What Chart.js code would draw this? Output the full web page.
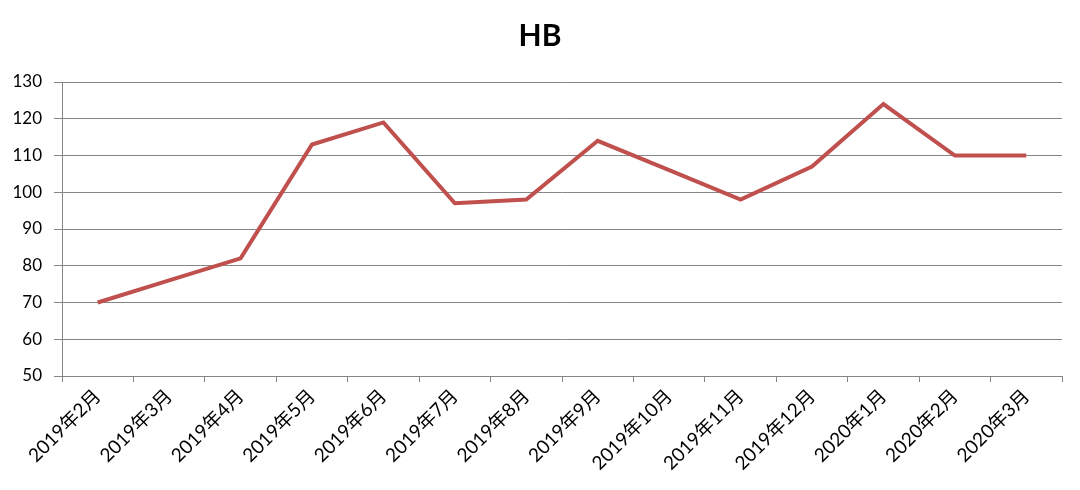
<!DOCTYPE html>
<html>
<head>
<meta charset="utf-8">
<script src="https://cdn.jsdelivr.net/npm/chart.js@4/dist/chart.umd.min.js"></script>
<style>
html,body{margin:0;padding:0;background:#fff;}
#wrap{width:1080px;height:490px;position:relative;}
</style>
</head>
<body>
<div id="wrap"><canvas id="c" width="1080" height="490"></canvas></div>
<script>
const categories = ["2019年2月","2019年3月","2019年4月","2019年5月","2019年6月","2019年7月","2019年8月","2019年9月","2019年10月","2019年11月","2019年12月","2020年1月","2020年2月","2020年3月"];
const hbValues = [70,76,82,113,119,97,98,114,106,98,107,124,110,110];
const yTicks = [50,60,70,80,90,100,110,120,130];
const chartTitle = "HB";

const FONT = "Lato, 'Noto Sans CJK SC', sans-serif";
const gridColor = "#868686";

const centeredTitle = {
  id: 'centeredTitle',
  afterDraw(chart) {
    const ctx = chart.ctx;
    ctx.save();
    ctx.font = "bold 30px " + FONT;
    ctx.fillStyle = '#000';
    ctx.textAlign = 'center';
    ctx.textBaseline = 'middle';
    ctx.fillText(chartTitle, chart.width / 2, 36);
    ctx.restore();
  }
};

new Chart(document.getElementById('c'), {
  type: 'line',
  data: {
    labels: categories,
    datasets: [{
      label: chartTitle,
      data: hbValues,
      borderColor: '#C0504D',
      backgroundColor: '#C0504D',
      borderWidth: 4,
      pointRadius: 0,
      tension: 0,
      fill: false
    }]
  },
  plugins: [centeredTitle],
  options: {
    responsive: false,
    animation: false,
    layout: { padding: { left: 0, right: 18, top: 82, bottom: 0 } },
    plugins: {
      legend: { display: false },
      tooltip: { enabled: false },
      title: { display: false }
    },
    scales: {
      x: {
        type: 'category',
        offset: true,
        grid: {
          offset: true,
          drawOnChartArea: false,
          drawTicks: true,
          tickLength: 6,
          color: gridColor,
          lineWidth: 1
        },
        border: { color: gridColor, width: 1 },
        ticks: {
          autoSkip: false,
          maxRotation: 45,
          minRotation: 45,
          padding: 3,
          color: '#000',
          font: { family: FONT, size: 19 }
        },
        afterFit: (s) => { s.height = 114; }
      },
      y: {
        min: 50,
        max: 130,
        afterBuildTicks: (s) => { s.ticks = yTicks.map(v => ({ value: v })); },
        grid: {
          color: gridColor,
          lineWidth: 1,
          drawTicks: true,
          tickLength: 8
        },
        border: { color: gridColor, width: 1 },
        ticks: {
          padding: 12,
          color: '#000',
          font: { family: FONT, size: 17 }
        },
        afterFit: (s) => { s.width = 62; }
      }
    }
  }
});
</script>
</body>
</html>
